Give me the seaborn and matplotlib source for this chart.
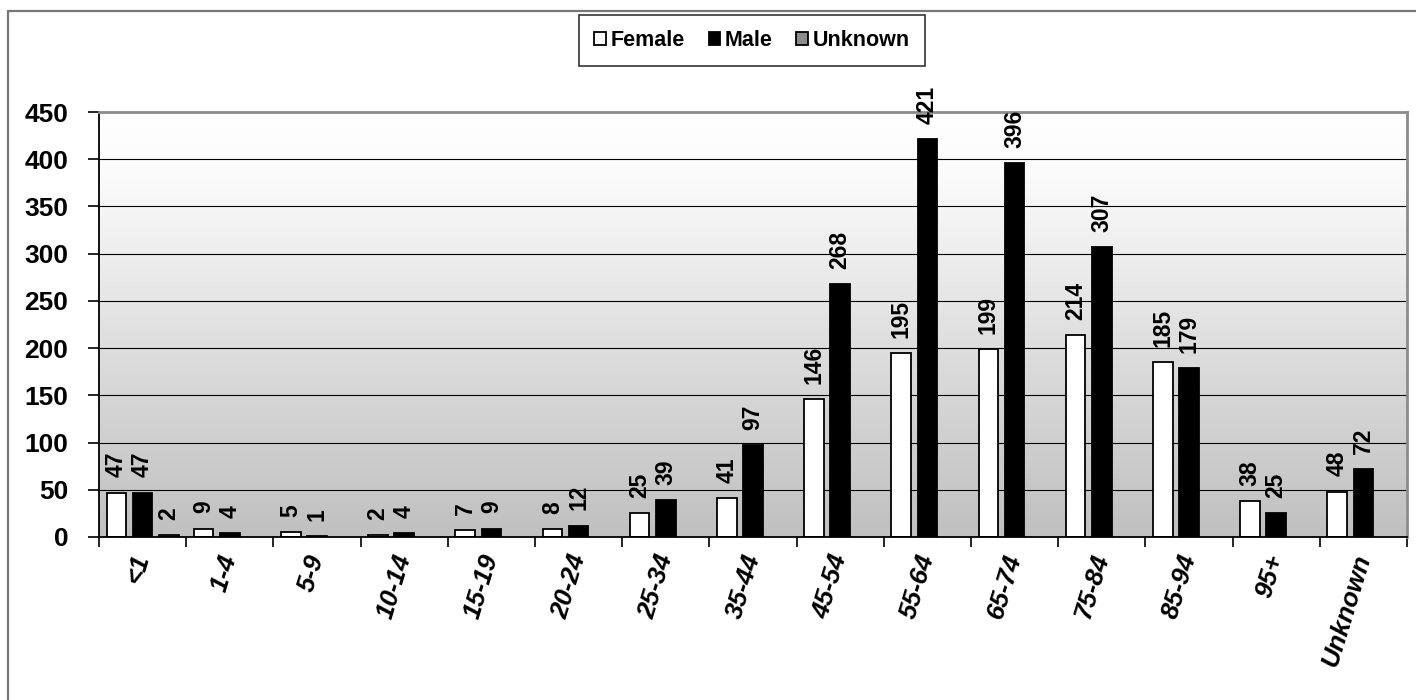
import numpy as np
import pandas as pd
import matplotlib
matplotlib.use("Agg")
import matplotlib.pyplot as plt
from matplotlib.colors import LinearSegmentedColormap
from matplotlib.patches import Patch, Rectangle
import seaborn as sns

# Case counts by age group and sex
age_groups = ["<1", "1-4", "5-9", "10-14", "15-19", "20-24", "25-34", "35-44",
              "45-54", "55-64", "65-74", "75-84", "85-94", "95+", "Unknown"]
female = [47, 9, 5, 2, 7, 8, 25, 41, 146, 195, 199, 214, 185, 38, 48]
male = [47, 4, 1, 4, 9, 12, 39, 97, 268, 421, 396, 307, 179, 25, 72]
unknown = [2, np.nan, np.nan, np.nan, np.nan, np.nan, np.nan, np.nan,
           np.nan, np.nan, np.nan, np.nan, np.nan, np.nan, np.nan]
sexes = ["Female", "Male", "Unknown"]
colors = {"Female": "#ffffff", "Male": "#000000", "Unknown": "#8c8c8c"}
y_ticks = [0, 50, 100, 150, 200, 250, 300, 350, 400, 450]

df = pd.DataFrame({
    "age": age_groups * 3,
    "sex": ["Female"] * len(age_groups) + ["Male"] * len(age_groups) + ["Unknown"] * len(age_groups),
    "count": female + male + unknown,
}).dropna()

sns.set_style("white")
plt.rcParams["font.family"] = ["Liberation Sans", "DejaVu Sans"]
plt.rcParams["font.weight"] = "bold"
for key in ["text.color", "xtick.color", "ytick.color", "axes.labelcolor"]:
    plt.rcParams[key] = "black"

fig = plt.figure(figsize=(14.16, 7.0), dpi=100)
ax = fig.add_axes([99 / 1416, 1 - 537 / 700, (1407 - 99) / 1416, (537 - 112) / 700])

sns.barplot(data=df, x="age", y="count", hue="sex", order=age_groups,
            hue_order=sexes, palette=colors, width=0.9, gap=0.25,
            edgecolor="black", linewidth=1.3, errorbar=None, legend=False,
            ax=ax, zorder=2)

# vertical gradient behind the bars, white at the top fading to grey
grad = LinearSegmentedColormap.from_list(
    "bg", [(0.0, "#c0c0c0"), (0.45, "#dedede"), (0.85, "#fbfbfb"), (1.0, "#ffffff")])
ax.imshow(np.linspace(0, 1, 256).reshape(-1, 1), cmap=grad, origin="lower",
          extent=[-0.5, len(age_groups) - 0.5, 0, 450], aspect="auto", zorder=0)

ax.set_xlim(-0.5, len(age_groups) - 0.5)
ax.set_ylim(0, 450)
ax.set_yticks(y_ticks)
ax.set_yticklabels([str(t) for t in y_ticks], fontsize=19, fontweight="bold")
ax.yaxis.grid(True, color="black", linewidth=0.8, zorder=1)
ax.set_axisbelow(True)

ax.set_xticks(range(len(age_groups)))
ax.set_xticklabels(age_groups, rotation=73, ha="right", va="center",
                   rotation_mode="anchor", fontsize=18.5, fontweight="bold",
                   fontstyle="italic")
ax.set_xticks(np.arange(-0.5, len(age_groups)), minor=True)
ax.tick_params(axis="x", which="major", length=0, pad=13)
ax.tick_params(axis="x", which="minor", length=7, width=1.2, color="black",
               direction="out", bottom=True)
ax.tick_params(axis="y", length=8, width=1.2, color="black", direction="out",
               left=True, pad=14)
ax.set_xlabel("")
ax.set_ylabel("")

for side in ["left", "bottom"]:
    ax.spines[side].set_color("black")
    ax.spines[side].set_linewidth(1.3)
for side in ["top", "right"]:
    ax.spines[side].set_color("#8c8c8c")
    ax.spines[side].set_linewidth(2)

for container in ax.containers:
    ax.bar_label(container, fmt="%d", rotation=90, padding=11,
                 fontsize=16.5, fontweight="bold", color="black")

handles = [Patch(facecolor=colors[s], edgecolor="black", linewidth=1.3, label=s)
           for s in sexes]
leg = fig.legend(handles=handles, loc="center", bbox_to_anchor=(752 / 1416, 1 - 40.5 / 700),
                 ncol=3, frameon=True, fancybox=False, edgecolor="black",
                 handlelength=0.55, handleheight=0.55, handletextpad=0.2,
                 columnspacing=1.1, borderpad=0.7, borderaxespad=0,
                 prop={"size": 15.5, "weight": "bold"})
leg.get_frame().set_linewidth(1.2)

# outer chart border
fig.patches.append(Rectangle((8 / 1416, -0.1), 1.2, 1.1 - 11 / 700,
                             transform=fig.transFigure, fill=False,
                             edgecolor="#777777", linewidth=1.6))

fig.savefig("out.png", dpi=100)
